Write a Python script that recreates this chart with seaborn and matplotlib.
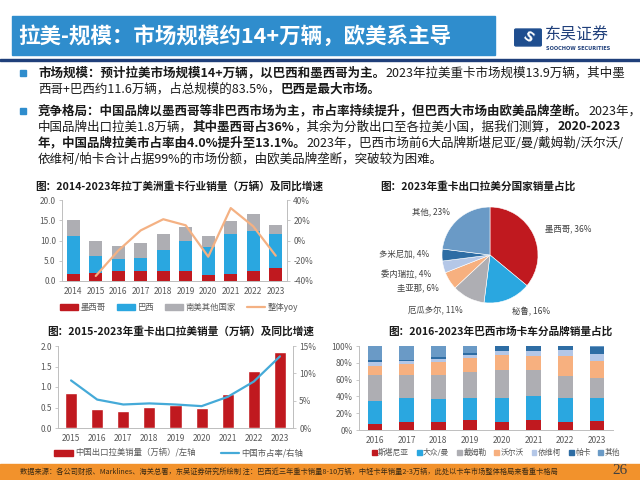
import numpy as np
import pandas as pd
import matplotlib
matplotlib.use("Agg")
import matplotlib.pyplot as plt
import matplotlib.patches as mpatches
from matplotlib.lines import Line2D
import seaborn as sns

# ---- chart 1: 2014-2023 拉丁美洲重卡销量（万辆）及同比
years1 = [2014, 2015, 2016, 2017, 2018, 2019, 2020, 2021, 2022, 2023]
mexico = [1.7, 2.0, 2.5, 2.4, 2.4, 2.5, 1.6, 1.7, 2.4, 3.1]
brazil = [9.4, 4.1, 2.9, 3.2, 5.3, 7.5, 6.8, 10.0, 10.0, 8.5]
other_sa = [3.9, 3.7, 3.2, 3.9, 3.9, 3.4, 2.8, 3.1, 4.2, 2.3]
yoy_years = [2015, 2016, 2017, 2018, 2019, 2020, 2021, 2022, 2023]
yoy = [-35, -10, 10, 21, 15, -16, 32, 14, -15]
regions = ["墨西哥", "巴西", "南美其他国家"]

# ---- chart 2: 2023 重卡出口拉美分国家占比
countries = ["墨西哥", "秘鲁", "厄瓜多尔", "圭亚那", "委内瑞拉", "多米尼加", "其他"]
shares = [36, 16, 11, 6, 4, 4, 23]

# ---- chart 3: 2015-2023 重卡出口拉美销量（万辆）及市占率
years3 = [2015, 2016, 2017, 2018, 2019, 2020, 2021, 2022, 2023]
export = [0.85, 0.46, 0.42, 0.52, 0.56, 0.48, 0.84, 1.38, 1.85]
cn_share = [8.7, 5.2, 4.3, 4.5, 4.3, 4.0, 5.7, 8.5, 13.1]

# ---- chart 4: 2016-2023 巴西卡车分品牌占比（%）
years4 = [2016, 2017, 2018, 2019, 2020, 2021, 2022, 2023]
brands = ["斯堪尼亚", "大众/曼", "戴姆勒", "沃尔沃", "依维柯", "帕卡", "其他"]
scania = [7, 10, 10, 12, 9, 12, 10, 11]
vw_man = [28, 28, 27, 26, 29, 29, 28, 27]
daimler = [30, 28, 29, 31, 34, 30, 26, 24]
volvo = [11, 12, 15, 17, 17, 17, 24, 20]
iveco = [5, 4, 3, 3, 5, 6, 7, 9]
paccar = [2, 1.5, 2.5, 3, 6, 6, 5, 8]
others4 = [17, 16.5, 13.5, 8, 0, 0, 0, 1]

RED = "#C0191F"
BLUE = "#2AA7E0"
GRAY = "#AEAEB3"
ORANGE = "#F4B183"
PEACH = "#F7B07F"
LAV = "#B4C7E7"
DARKB = "#2E6DA4"
STEEL = "#6A9AC6"
TEAL = "#45AAD8"
TXT = "#595959"

sns.set_theme(style="ticks")
plt.rcParams["font.family"] = ["Noto Sans CJK SC", "DejaVu Sans"]
plt.rcParams["axes.unicode_minus"] = False

W, H = 640, 480


def rect(l, t, r, b):
    return [l / W, 1 - b / H, (r - l) / W, (b - t) / H]


def fx(x):
    return x / W


def fy(y):
    return 1 - y / H


fig = plt.figure(figsize=(6.4, 4.8), dpi=100)
fig.patch.set_facecolor("white")
renderer = fig.canvas.get_renderer()

# header
fig.patches.append(mpatches.Rectangle((fx(12), fy(55)), 483 / W, 39 / H, transform=fig.transFigure,
                                      color="#2F8DCD", zorder=0))
fig.text(fx(18), fy(36), "拉美-规模：市场规模约14+万辆，欧美系主导", color="white",
         fontsize=15.5, fontweight="bold", va="center")
fig.patches.append(mpatches.Rectangle((0, fy(61)), 1, 2 / H, transform=fig.transFigure,
                                      color="#1F3F7A", zorder=0))
fig.patches.append(mpatches.FancyBboxPatch((fx(516), fy(45)), 24 / W, 15 / H, transform=fig.transFigure,
                                           boxstyle="round,pad=0.002", color="#1F4E8F"))
fig.text(fx(528), fy(37.5), "S", color="white", fontsize=10, fontweight="bold",
         ha="center", va="center", rotation=-35, family="DejaVu Sans")
fig.text(fx(545), fy(35), "东吴证券", color="#1F3F7A", fontsize=11.5, va="center")
fig.text(fx(546), fy(48), "SOOCHOW SECURITIES", color="#1F3F7A", fontsize=3.6,
         fontweight="bold", va="center", family="DejaVu Sans")


def rich_line(x, y, parts, size=9):
    for s, bold in parts:
        t = fig.text(fx(x), fy(y), s, fontsize=size, fontweight="bold" if bold else "normal",
                     va="center", ha="left", color="#1A1A1A")
        x += t.get_window_extent(renderer=renderer).width


for by in (73, 111):
    fig.patches.append(mpatches.Rectangle((fx(20), fy(by + 3)), 6 / W, 6 / H,
                                          transform=fig.transFigure, color="#2F8DCD"))

rich_line(38, 73, [("市场规模：预计拉美市场规模14+万辆，以巴西和墨西哥为主。", True),
                   ("2023年拉美重卡市场规模13.9万辆，其中墨", False)])
rich_line(38, 89, [("西哥+巴西约11.6万辆，占总规模的83.5%，", False), ("巴西是最大市场。", True)])
rich_line(38, 111, [("竞争格局：中国品牌以墨西哥等非巴西市场为主，市占率持续提升，但巴西大市场由欧美品牌垄断。", True),
                    ("2023年，", False)])
rich_line(38, 127, [("中国品牌出口拉美1.8万辆，", False), ("其中墨西哥占36%", True),
                    ("，其余为分散出口至各拉美小国，据我们测算，", False), ("2020-2023", True)])
rich_line(38, 143, [("年，中国品牌拉美市占率由4.0%提升至13.1%。", True),
                    ("2023年，巴西市场前6大品牌斯堪尼亚/曼/戴姆勒/沃尔沃/", False)])
rich_line(38, 159, [("依维柯/帕卡合计占据99%的市场份额，由欧美品牌垄断，突破较为困难。", False)])

title_kw = dict(fontsize=7.7, fontweight="bold", va="center", color="#1A1A1A")
fig.text(fx(35), fy(186), "图：2014-2023年拉丁美洲重卡行业销量（万辆）及同比增速", **title_kw)
fig.text(fx(380), fy(186), "图：2023年重卡出口拉美分国家销量占比", **title_kw)
fig.text(fx(47), fy(331), "图：2015-2023年重卡出口拉美销量（万辆）及同比增速", **title_kw)
fig.text(fx(388), fy(331), "图：2016-2023年巴西市场卡车分品牌销量占比", **title_kw)


def style_axis(ax, right=False):
    for side in ("top", "right", "left", "bottom"):
        ax.spines[side].set_visible(False)
    ax.spines["bottom"].set_visible(True)
    ax.spines["left"].set_visible(True)
    if right:
        ax.spines["right"].set_visible(True)
    for s in ax.spines.values():
        s.set_color("#BFBFBF")
        s.set_linewidth(0.7)
    ax.tick_params(labelsize=6, labelcolor=TXT, colors="#BFBFBF", length=2.5, width=0.6, pad=2)
    ax.tick_params(axis="x", length=0, pad=4)
    ax.set_xlabel("")
    ax.set_ylabel("")
    ax.set_facecolor("none")


# ---- chart 1
ax1 = fig.add_axes(rect(62, 200, 287, 281))
df1 = pd.DataFrame({
    "year": years1 * 3,
    "region": sum([[r] * len(years1) for r in regions], []),
    "value": mexico + brazil + other_sa,
})
sns.histplot(df1, x="year", weights="value", hue="region", hue_order=regions[::-1],
             multiple="stack", discrete=True, shrink=0.58, alpha=1, linewidth=0,
             palette={"墨西哥": RED, "巴西": BLUE, "南美其他国家": GRAY}, legend=False, ax=ax1)
ax1.set_xlim(2013.5, 2023.5)
ax1.set_ylim(0, 20)
ax1.set_yticks(np.arange(0, 20.1, 5))
ax1.set_yticklabels([f"{v:.1f}" for v in np.arange(0, 20.1, 5)])
ax1.set_xticks(years1)
ax1.set_xticklabels([str(y) for y in years1])
style_axis(ax1, right=True)
ax1b = ax1.twinx()
sns.lineplot(x=yoy_years, y=yoy, color=ORANGE, linewidth=1.6, ax=ax1b)
ax1b.set_ylim(-40, 40)
ax1b.set_yticks([-40, -20, 0, 20, 40])
ax1b.set_yticklabels([f"{v}%" for v in [-40, -20, 0, 20, 40]])
style_axis(ax1b, right=True)
ax1b.spines["left"].set_visible(False)

h1 = [mpatches.Patch(color=RED), mpatches.Patch(color=BLUE), mpatches.Patch(color=GRAY),
      Line2D([], [], color=ORANGE, lw=1.6)]
fig.legend(h1, regions + ["整体yoy"], loc="center", bbox_to_anchor=(fx(179), fy(307)), ncol=4,
           frameon=False, fontsize=6, handlelength=2.2, handleheight=0.7, handletextpad=0.3,
           columnspacing=1.3, labelcolor=TXT)

# ---- chart 2
axp = fig.add_axes(rect(442, 207, 538, 303))
pie_colors = [RED, BLUE, GRAY, PEACH, LAV, DARKB, STEEL]
wedges, labels = axp.pie(shares, colors=pie_colors, startangle=90, counterclock=False,
                         labels=[f"{c}, {s}%" for c, s in zip(countries, shares)], labeldistance=1.27,
                         textprops=dict(fontsize=6, color="#404040"),
                         wedgeprops=dict(linewidth=0.4, edgecolor="white"))
axp.set_xlim(-1, 1)
axp.set_ylim(-1, 1)
# spread the two small-slice labels a little, as in the source
lx, ly = labels[4].get_position()
labels[4].set_position((lx, ly - 0.1))
lx, ly = labels[5].get_position()
labels[5].set_position((lx, ly + 0.02))
lx, ly = labels[6].get_position()
labels[6].set_position((lx, ly - 0.06))

# ---- chart 3
ax3 = fig.add_axes(rect(58, 346, 293, 428))
sns.barplot(x=years3, y=export, native_scale=True, width=0.46, color=RED, saturation=1, ax=ax3)
ax3.set_xlim(2014.5, 2023.5)
ax3.set_ylim(0, 2)
ax3.set_yticks(np.arange(0, 2.01, 0.5))
ax3.set_yticklabels([f"{v:.1f}" for v in np.arange(0, 2.01, 0.5)])
ax3.set_xticks(years3)
ax3.set_xticklabels([str(y) for y in years3])
style_axis(ax3, right=True)
ax3b = ax3.twinx()
sns.lineplot(x=years3, y=cn_share, color=TEAL, linewidth=1.6, ax=ax3b)
ax3b.set_ylim(0, 15)
ax3b.set_yticks([0, 5, 10, 15])
ax3b.set_yticklabels([f"{v}%" for v in [0, 5, 10, 15]])
style_axis(ax3b, right=True)
ax3b.spines["left"].set_visible(False)

h3 = [mpatches.Patch(color=RED), Line2D([], [], color=TEAL, lw=1.6)]
fig.legend(h3, ["中国出口拉美销量（万辆）/左轴", "中国市占率/右轴"], loc="center",
           bbox_to_anchor=(fx(179), fy(453)), ncol=2, frameon=False, fontsize=6,
           handlelength=2.2, handleheight=0.7, handletextpad=0.3, columnspacing=3,
           labelcolor=TXT)

# ---- chart 4
ax4 = fig.add_axes(rect(359, 346, 613, 430))
brand_vals = [scania, vw_man, daimler, volvo, iveco, paccar, others4]
df4 = pd.DataFrame({
    "year": years4 * len(brands),
    "brand": sum([[b] * len(years4) for b in brands], []),
    "share": sum(brand_vals, []),
})
brand_colors = [RED, BLUE, GRAY, PEACH, LAV, DARKB, STEEL]
sns.histplot(df4, x="year", weights="share", hue="brand", hue_order=brands[::-1],
             multiple="stack", discrete=True, shrink=0.45, alpha=1, linewidth=0,
             palette=dict(zip(brands, brand_colors)), legend=False, ax=ax4)
ax4.set_xlim(2015.5, 2023.5)
ax4.set_ylim(0, 100)
ax4.set_yticks(np.arange(0, 101, 20))
ax4.set_yticklabels([f"{v}%" for v in range(0, 101, 20)])
ax4.set_xticks(years4)
ax4.set_xticklabels([str(y) for y in years4])
style_axis(ax4)

h4 = [mpatches.Patch(color=c) for c in brand_colors]
fig.legend(h4, brands, loc="center", bbox_to_anchor=(fx(496), fy(453)), ncol=7, frameon=False,
           fontsize=5.6, handlelength=0.6, handleheight=0.6, handletextpad=0.2,
           columnspacing=1.0, labelcolor=TXT)

# footer
fig.patches.append(mpatches.Rectangle((0, 0), 1, 16 / H, transform=fig.transFigure,
                                      color="#F2922C", zorder=0))
fig.text(fx(20), fy(472), "数据来源：各公司财报、Marklines、海关总署，东吴证券研究所绘制 注：巴西近三年重卡销量8-10万辆，"
         "中轻卡年销量2-3万辆，此处以卡车市场整体格局来看重卡格局", fontsize=5.2, color="#3A2A14", va="center")
fig.text(fx(620), fy(471), "26", fontsize=11, color="#404040", va="center", ha="center",
         family="Liberation Serif")

fig.savefig("out.png", dpi=100)
